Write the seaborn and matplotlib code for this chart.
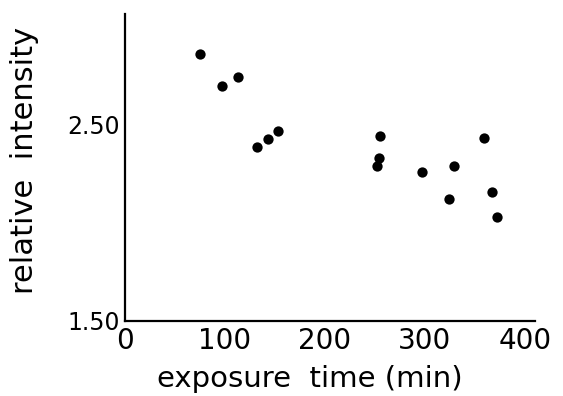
import matplotlib
matplotlib.use("Agg")
import matplotlib.pyplot as plt
import seaborn as sns
import pandas as pd

exposure_time = [75, 97, 113, 132, 143, 153, 255, 254, 252, 297, 329, 324, 359, 367, 372]
relative_intensity = [2.86, 2.70, 2.745, 2.39, 2.43, 2.47, 2.445, 2.33, 2.29, 2.26, 2.29, 2.12, 2.435, 2.16, 2.03]
x_ticks = [0, 100, 200, 300, 400]
y_ticks = [1.5, 2.0, 2.5, 3.0]
y_tick_labels = ["1.50", "", "2.50", ""]

sns.set_style("white")
plt.rcParams['font.family'] = ['DejaVu Sans']
plt.rcParams['text.color'] = 'black'
plt.rcParams['axes.labelcolor'] = 'black'

df = pd.DataFrame({"t": exposure_time, "I": relative_intensity})

fig = plt.figure(figsize=(5.63, 3.96), dpi=100)
ax = fig.add_axes([125/563, 75/396, 410/563, 307/396])
sns.scatterplot(data=df, x="t", y="I", ax=ax, color="black", s=55, edgecolor="black", linewidth=0)

ax.set_xlim(0, 410)
ax.set_ylim(1.5, 3.066)
ax.set_xticks(x_ticks)
ax.set_xticklabels([str(v) for v in x_ticks])
ax.set_yticks(y_ticks)
ax.set_yticklabels(y_tick_labels)
for s in ["top", "right"]:
    ax.spines[s].set_visible(False)
for s in ["left", "bottom"]:
    ax.spines[s].set_color("black")
    ax.spines[s].set_linewidth(1.6)
ax.tick_params(axis="y", direction="out", length=3, width=1, labelsize=17, pad=1, colors="black")
ax.tick_params(axis="x", direction="in", length=3, width=1, labelsize=20, pad=4, colors="black")
ax.set_xlabel("exposure  time (min)", fontsize=21, color="black")
ax.set_ylabel("relative  intensity", fontsize=22, color="black")
ax.xaxis.set_label_coords(0.45, -0.19)
ax.xaxis.label.set_va("center")
ax.yaxis.set_label_coords(-0.245, 0.524)
ax.yaxis.label.set_va("center")
fig.savefig("out.png", dpi=100)
